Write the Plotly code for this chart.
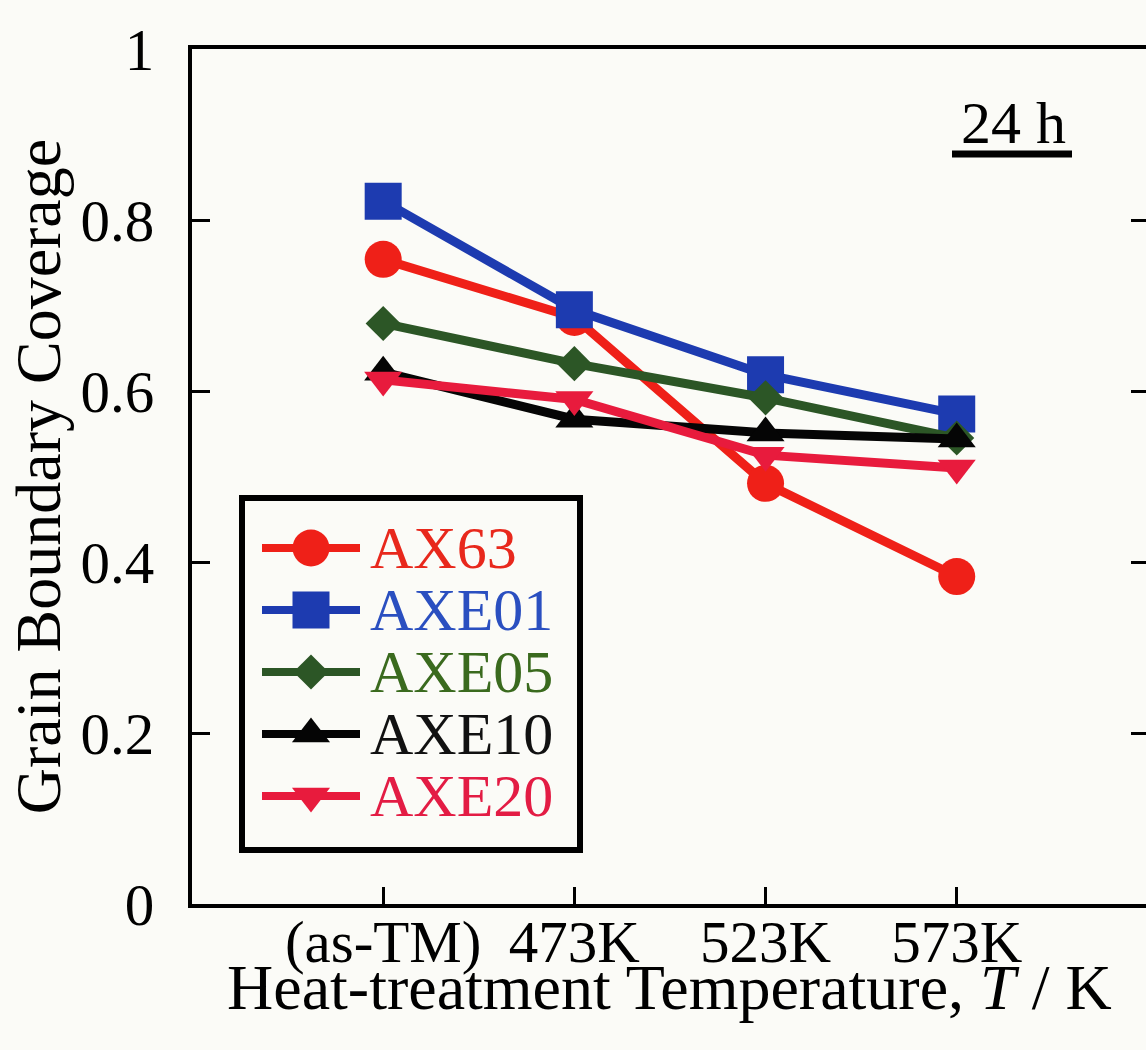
import plotly.graph_objects as go

# Heat-treatment conditions (category axis)
temps = ["(as-TM)", "473K", "523K", "573K"]

# Grain boundary coverage after 24 h, one list per alloy
series_names = ["AX63", "AXE01", "AXE05", "AXE10", "AXE20"]
ax63 = [0.754, 0.686, 0.492, 0.383]
axe01 = [0.822, 0.695, 0.619, 0.573]
axe05 = [0.679, 0.632, 0.592, 0.545]
axe10 = [0.622, 0.567, 0.551, 0.544]
axe20 = [0.613, 0.590, 0.525, 0.510]
values = [ax63, axe01, axe05, axe10, axe20]

y_ticks = [0, 0.2, 0.4, 0.6, 0.8, 1]

# Styling per series: line/marker colour, label colour, symbol, marker size
line_colors = ["#ef2018", "#1d3bb0", "#2c5626", "#050505", "#e81b3d"]
text_colors = ["#e8281c", "#2a4fc0", "#3a6a1e", "#111111", "#e31c44"]
symbols = ["circle", "square", "diamond", "triangle-up", "triangle-down"]
msizes = [37, 37, 27, 33, 33]

FONT = "Liberation Serif, Times New Roman, serif"
W, H = 1146, 1050
ML, MR, MT, MB = 192, 0, 49, 146
PLOT_H = H - MT - MB

xpos = list(range(1, len(temps) + 1))

fig = go.Figure()

for name, vals, lc, sym, ms in zip(series_names, values, line_colors, symbols, msizes):
    fig.add_trace(go.Scatter(
        x=xpos, y=vals, name=name, mode="lines+markers",
        line=dict(color=lc, width=9),
        marker=dict(symbol=sym, size=ms, color=lc, line=dict(width=0)),
        showlegend=False, hoverinfo="skip",
    ))

# placeholder trace so the right-hand tick axis is drawn
fig.add_trace(go.Scatter(x=[None], y=[None], yaxis="y2", showlegend=False,
                         hoverinfo="skip"))

# Hand-drawn legend in pixel space (overlay axes x3/y3 map page pixels)
leg_left, leg_right, leg_top, leg_bottom = 242, 580, 498, 850
row_y0, row_dy = 548, 62
sample_x0, sample_x1, text_x = 262, 360, 368
for i, (name, lc, tc, sym, ms) in enumerate(zip(series_names, line_colors, text_colors, symbols, msizes)):
    ry = row_y0 + i * row_dy
    fig.add_trace(go.Scatter(
        x=[sample_x0, sample_x1], y=[ry, ry], mode="lines",
        line=dict(color=lc, width=8), xaxis="x3", yaxis="y3",
        showlegend=False, hoverinfo="skip",
    ))
    fig.add_trace(go.Scatter(
        x=[(sample_x0 + sample_x1) / 2], y=[ry], mode="markers",
        marker=dict(symbol=sym, size=ms, color=lc, line=dict(width=0)),
        xaxis="x3", yaxis="y3", showlegend=False, hoverinfo="skip",
    ))
    fig.add_annotation(x=text_x, y=ry, xref="x3", yref="y3", text=name,
                       showarrow=False, xanchor="left", yanchor="middle",
                       font=dict(family=FONT, size=60, color=tc))

fig.add_shape(type="rect", xref="x3", yref="y3",
              x0=leg_left, x1=leg_right, y0=leg_top, y1=leg_bottom,
              line=dict(color="black", width=6), fillcolor="rgba(0,0,0,0)")

# "24 h" label with thick underline
fig.add_annotation(x=1013, y=123, xref="x3", yref="y3", text="24 h",
                   showarrow=False, xanchor="center", yanchor="middle",
                   font=dict(family=FONT, size=60, color="black"))
fig.add_shape(type="line", xref="x3", yref="y3", x0=952, x1=1072, y0=154, y1=154,
              line=dict(color="black", width=7))

# Horizontal axis title, placed below the tick labels (paper coordinates)
title_px = 987
fig.add_annotation(x=0.5, y=((H - MB) - title_px) / PLOT_H, xref="paper", yref="paper",
                   text="Heat-treatment Temperature, <i>T</i> / K",
                   showarrow=False, xanchor="center", yanchor="middle",
                   font=dict(family=FONT, size=64, color="black"))

axis_common = dict(showgrid=False, zeroline=False, color="black")

fig.update_layout(
    width=W, height=H,
    margin=dict(l=ML, r=MR, t=MT, b=MB, pad=0),
    paper_bgcolor="#fbfbf7", plot_bgcolor="rgba(0,0,0,0)",
    font=dict(family=FONT, size=59, color="black"),
    xaxis=dict(
        **axis_common, range=[0, 4.99], tickmode="array",
        tickvals=xpos, ticktext=temps,
        ticks="inside", ticklen=17, tickwidth=3, tickcolor="black",
        showline=True, linewidth=4, linecolor="black", mirror=True,
        tickfont=dict(family=FONT, size=59, color="black"),
        ticklabelstandoff=-17,
    ),
    yaxis=dict(
        **axis_common, range=[0, 1], tickmode="array", tickvals=y_ticks,
        ticks="inside", ticklen=18, tickwidth=3, tickcolor="black",
        showline=True, linewidth=4, linecolor="black", mirror=False,
        tickfont=dict(family=FONT, size=59, color="black"),
        ticklabelstandoff=22,
        title=dict(text="Grain Boundary Coverage",
                   font=dict(family=FONT, size=64, color="black"), standoff=0),
    ),
    yaxis2=dict(
        **axis_common, overlaying="y", side="right", range=[0, 1],
        tickmode="array", tickvals=y_ticks, ticks="inside", ticklen=15,
        tickwidth=3, tickcolor="black", showticklabels=False, showline=False,
    ),
    xaxis3=dict(domain=[0, 1], anchor="y3", range=[ML, W - MR], visible=False,
                fixedrange=True),
    yaxis3=dict(domain=[0, 1], anchor="x3", range=[H - MB, MT], visible=False,
                fixedrange=True),
)

fig.write_html("out.html")
